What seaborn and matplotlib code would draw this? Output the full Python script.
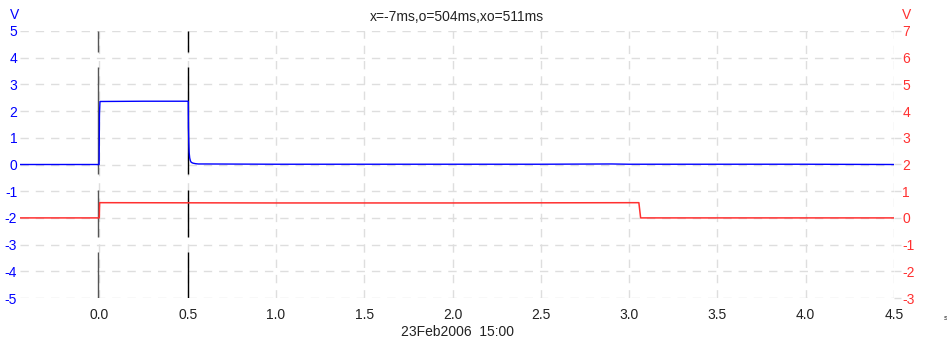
#!/usr/bin/env python3
"""plot.py - two-channel scope trace with cursors (blue left axis, red right axis)."""

import numpy as np
import matplotlib
matplotlib.use("Agg")
import matplotlib.pyplot as plt
import seaborn as sns

# ---------------------------------------------------------------------------
# Data
# ---------------------------------------------------------------------------
# Channel A (blue, left axis, V)
TIME_A = [-0.45, -0.002, 0.0, 0.003, 0.25, 0.503, 0.504, 0.506, 0.508, 0.511,
          0.515, 0.52, 0.53, 0.545, 0.56, 0.6, 1.0, 1.5, 2.0, 2.5, 2.9,
          3.0, 3.5, 4.0, 4.5]
VOLT_A = [0.0, 0.0, 1.9, 2.36, 2.37, 2.37, 1.4, 0.8, 0.45, 0.25,
          0.14, 0.08, 0.05, 0.03, 0.02, 0.02, 0.01, 0.01, 0.01, 0.01, 0.02,
          0.01, 0.01, 0.01, 0.0]

# Channel B (red, right axis, V)
TIME_B = [-0.45, -0.001, 0.001, 1.0, 2.0, 3.055, 3.065, 3.5, 4.5]
VOLT_B = [0.0, 0.0, 0.57, 0.56, 0.56, 0.57, 0.0, 0.0, 0.0]

# Cursors (s) and the visible segments of each cursor line (left-axis V)
CURSORS = [-0.007, 0.504]
CURSOR_COLORS = ["#555555", "#000000"]
CURSOR_SEGMENTS = [(4.21, 5.0), (-0.37, 3.65), (-2.73, -0.97), (-5.0, -3.28)]

X_TICKS = [0.0, 0.5, 1.0, 1.5, 2.0, 2.5, 3.0, 3.5, 4.0, 4.5]
LEFT_TICKS = [-5, -4, -3, -2, -1, 0, 1, 2, 3, 4, 5]
RIGHT_TICKS = [-3, -2, -1, 0, 1, 2, 3, 4, 5, 6, 7]

TITLE = "x=-7ms,o=504ms,xo=511ms"
XLABEL = "23Feb2006  15:00"

BLUE = "#0000ff"
RED = "#ff3030"
GRID = "#dedede"

# ---------------------------------------------------------------------------
# Plot
# ---------------------------------------------------------------------------
sns.set_style("white")
plt.rcParams.update({
    "font.family": ["Liberation Sans", "DejaVu Sans"],
    "font.size": 10,
})

W, H = 947, 337
fig = plt.figure(figsize=(W / 100, H / 100), dpi=100)
ax = fig.add_axes([20 / W, 39 / H, 874 / W, 267 / H])
ax2 = ax.twinx()

# grid first so traces sit on top
for y in LEFT_TICKS:
    ax.axhline(y, color=GRID, lw=1.0, ls=(0, (6, 5)), zorder=0)
for x in X_TICKS:
    ax.axvline(x, color=GRID, lw=1.0, ls=(0, (6, 5)), zorder=0)

for xc, col in zip(CURSORS, CURSOR_COLORS):
    for lo, hi in CURSOR_SEGMENTS:
        ax.vlines(xc, lo, hi, color=col, lw=1.0, zorder=2)

sns.lineplot(x=TIME_A, y=VOLT_A, ax=ax, color=BLUE, lw=1.0,
             estimator=None, sort=False, zorder=3)
sns.lineplot(x=TIME_B, y=VOLT_B, ax=ax2, color=RED, lw=1.1,
             estimator=None, sort=False, zorder=3)

ax.set_xlim(-0.45, 4.5)
ax.set_ylim(-5, 5)
ax2.set_ylim(-3, 7)

ax.set_xticks(X_TICKS)
ax.set_xticklabels([f"{t:.1f}" for t in X_TICKS])
ax.set_yticks(LEFT_TICKS)
ax.set_yticklabels([str(t) for t in LEFT_TICKS])
ax2.set_yticks(RIGHT_TICKS)
ax2.set_yticklabels([str(t) for t in RIGHT_TICKS])

ax.tick_params(axis="x", length=0, pad=7, labelsize=10, labelcolor="#222222")
ax.tick_params(axis="y", length=0, pad=2, labelsize=10, labelcolor=BLUE)
ax2.tick_params(axis="y", length=5, width=1, color=GRID, pad=1,
                labelsize=10, labelcolor=RED)

for a in (ax, ax2):
    for s in a.spines.values():
        s.set_visible(False)
    a.set_ylabel("")

ax.set_xlabel(XLABEL, fontsize=10, labelpad=2, color="#222222")
ax.set_title(TITLE, fontsize=10, pad=7, color="#222222")

fig.text(15 / W, 1 - 15 / H, "V", color=BLUE, fontsize=10,
         ha="center", va="center")
fig.text(907 / W, 1 - 15 / H, "V", color=RED, fontsize=10,
         ha="center", va="center")
fig.text(946 / W, 1 - 318 / H, "s", color="#222222", fontsize=6,
         ha="center", va="center")

fig.savefig("out.png", dpi=100)
